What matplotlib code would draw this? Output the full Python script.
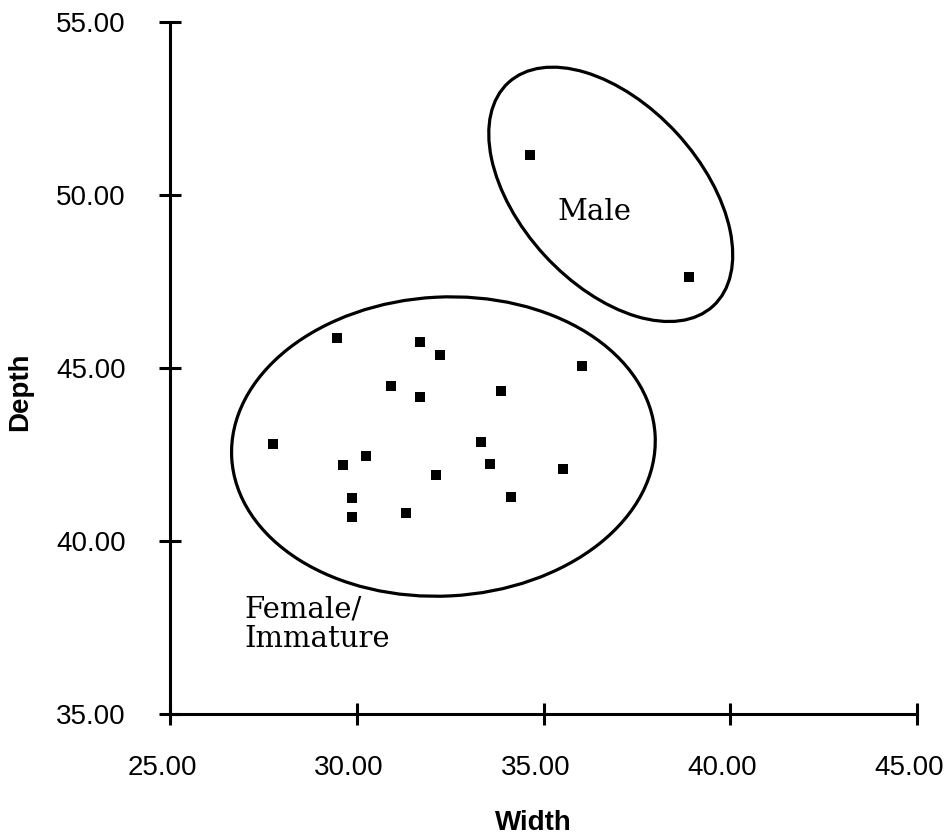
import matplotlib
matplotlib.use("Agg")
import matplotlib.pyplot as plt
from matplotlib.patches import Ellipse
from matplotlib.transforms import ScaledTranslation

# data
width = [34.63, 38.90,
         29.46, 31.70, 32.22, 36.04, 30.91, 33.87, 31.70,
         27.75, 33.32, 30.24, 29.62, 33.57, 35.53, 32.13,
         29.86, 34.14, 29.86, 31.33]
depth = [51.16, 47.64,
         45.86, 45.76, 45.38, 45.06, 44.49, 44.34, 44.17,
         42.80, 42.85, 42.46, 42.20, 42.22, 42.08, 41.91,
         41.25, 41.26, 40.70, 40.80]

xticks = [25, 30, 35, 40, 45]
yticks = [35, 40, 45, 50, 55]

# group outlines: centre (data), size (inches), angle (deg)
male_centre = (36.80, 50.02)
male_size = (3.03, 1.80)
male_angle = -47.5
fem_centre = (32.32, 42.73)
fem_size = (4.24, 2.99)
fem_angle = 3.0

fig = plt.figure(figsize=(9.45, 8.38), dpi=100)
ax = fig.add_axes([0.1799, 0.148, 0.7905, 0.8257])

ax.scatter(width, depth, marker="s", s=52, color="black", linewidths=0, zorder=3)

for c, sz, ang in [(male_centre, male_size, male_angle), (fem_centre, fem_size, fem_angle)]:
    tr = fig.dpi_scale_trans + ScaledTranslation(c[0], c[1], ax.transData)
    e = Ellipse((0, 0), sz[0], sz[1], angle=ang, fill=False,
                edgecolor="black", linewidth=2.3, transform=tr)
    ax.add_patch(e)

ax.text(35.37, 49.28, "Male", family="DejaVu Serif", fontsize=21,
        ha="left", va="baseline")
ax.text(27.0, 36.95, "Female/\nImmature", family="DejaVu Serif", fontsize=21,
        ha="left", va="baseline", linespacing=1.03)

ax.set_xlim(25, 45)
ax.set_ylim(35, 55)
ax.set_xticks(xticks)
ax.set_yticks(yticks)
ax.set_xticklabels(["%.2f" % v for v in xticks])
ax.set_yticklabels(["%.2f" % v for v in yticks])

for s in ["top", "right"]:
    ax.spines[s].set_visible(False)
for s in ["left", "bottom"]:
    ax.spines[s].set_linewidth(2.2)

ax.tick_params(axis="both", direction="inout", length=15.5, width=2.2,
               labelsize=20, labelfontfamily="Liberation Sans")
ax.tick_params(axis="x", pad=22)
ax.tick_params(axis="y", pad=24)

# x labels sit a little left of their ticks in the original
shift = ScaledTranslation(-0.08, 0, fig.dpi_scale_trans)
for lab in ax.get_xticklabels():
    lab.set_transform(lab.get_transform() + shift)

ax.set_xlabel("Width", family="Liberation Sans", fontweight="bold", fontsize=20)
ax.set_ylabel("Depth", family="Liberation Sans", fontweight="bold", fontsize=20)
ax.xaxis.set_label_coords(0.487, -0.139)
ax.yaxis.set_label_coords(-0.1834, 0.465)

fig.savefig("out.png", dpi=100)
